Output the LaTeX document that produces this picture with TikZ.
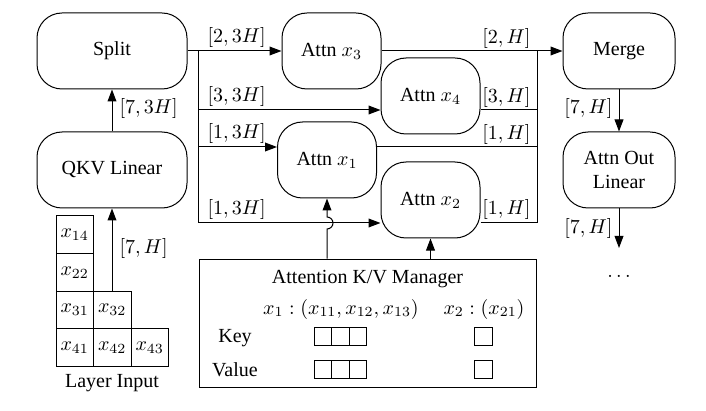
\documentclass[tikz,border=0pt]{standalone}
\usepackage[no-math]{fontspec}
\setmainfont{Liberation Serif}
\usetikzlibrary{arrows.meta}
\begin{document}
\begin{tikzpicture}[x=0.5pt,y=-0.5pt, line width=0.5pt,
  blk/.style={draw, rounded corners=12.5pt, inner sep=0pt, align=center, minimum height=38pt},
  cell/.style={draw, inner sep=0pt, minimum size=18.75pt},
  kv/.style={draw, inner sep=0pt, minimum width=8.75pt, minimum height=9pt},
  lbl/.style={inner sep=0pt},
  arr/.style={-{Triangle[length=6pt,width=4.4pt]}}
]
\useasboundingbox (0,0) rectangle (706,411);

% blocks
\node[blk, minimum width=75pt] (split) at (112,51) {Split};
\node[blk, minimum width=75pt] (qkv) at (112,170) {QKV Linear};
\node[blk, minimum width=49.5pt] (x3) at (331.5,51) {Attn $x_3$};
\node[blk, minimum width=49.5pt] (x4) at (430.5,96) {Attn $x_4$};
\node[blk, minimum width=49.5pt] (x1) at (327,160) {Attn $x_1$};
\node[blk, minimum width=49.5pt] (x2) at (430.5,200) {Attn $x_2$};
\node[blk, minimum width=56pt] (merge) at (619,51) {Merge};
\node[blk, minimum width=56pt] (aol) at (619,170) {Attn Out\\Linear};

% layer input cells
\node[cell] (c14) at (74.75,234.75) {$x_{14}$};
\node[cell] (c22) at (74.75,272.25) {$x_{22}$};
\node[cell] (c31) at (74.75,309.75) {$x_{31}$};
\node[cell] (c32) at (112.25,309.75) {$x_{32}$};
\node[cell] (c41) at (74.75,347.25) {$x_{41}$};
\node[cell] (c42) at (112.25,347.25) {$x_{42}$};
\node[cell] (c43) at (149.75,347.25) {$x_{43}$};
\node (li) at (112,383) {Layer Input};

% manager
\node[draw, minimum width=168.5pt, minimum height=64pt, inner sep=0pt] (mgr) at (367.5,323) {};
\node[anchor=base] (mt) at (367.5,284) {Attention K/V Manager};
\node[anchor=base] (m1) at (341,314) {$x_1:(x_{11},x_{12},x_{13})$};
\node[anchor=base] (m2) at (484,314) {$x_2:(x_{21})$};
\node[anchor=base] (key) at (235,342) {Key};
\node[anchor=base] (val) at (235,376) {Value};
\node[kv] (k11) at (323,336) {};
\node[kv] (k12) at (340.5,336) {};
\node[kv] (k13) at (358,336) {};
\node[kv, minimum width=9pt] (k21) at (483,336) {};
\node[kv] (v11) at (323,369) {};
\node[kv] (v12) at (340.5,369) {};
\node[kv] (v13) at (358,369) {};
\node[kv, minimum width=9pt] (v21) at (483,369) {};

% bus coordinates
\coordinate (b0) at (198,51);
\coordinate (b1) at (198,110);
\coordinate (b2) at (198,147);
\coordinate (b3) at (198,223);
\coordinate (o0) at (537,51);
\coordinate (o1) at (537,110);
\coordinate (o2) at (537,147);
\coordinate (o3) at (537,223);
\coordinate (end) at (619,248);

% left connectors
\draw[arr] (c32.north) -- (c32.north -| qkv.south) -- (qkv.south);
\node[lbl, anchor=base west] at (119,254) {$[7,H]$};
\draw[arr] (qkv.north) -- (split.south);
\node[lbl, anchor=base west] at (119,114) {$[7,3H]$};

% input bus
\draw[arr] (split.east) -- (x3.west);
\draw (b0) -- (b3);
\draw[arr] (b1) -- (b1 -| x4.west);
\draw[arr] (b2) -- (b2 -| x1.west);
\draw[arr] (b3) -- (b3 -| x2.west);
\node[lbl, anchor=base west] at (207,43) {$[2,3H]$};
\node[lbl, anchor=base west] at (207,102) {$[3,3H]$};
\node[lbl, anchor=base west] at (207,139) {$[1,3H]$};
\node[lbl, anchor=base west] at (207,214) {$[1,3H]$};

% output bus
\draw[arr] (x3.east) -- (merge.west);
\draw (o3) -- (o0);
\draw (o1 -| x4.east) -- (o1);
\draw (o2 -| x1.east) -- (o2);
\draw (o3 -| x2.east) -- (o3);
\node[lbl, anchor=base east] at (531,44) {$[2,H]$};
\node[lbl, anchor=base east] at (531,103) {$[3,H]$};
\node[lbl, anchor=base east] at (531,140) {$[1,H]$};
\node[lbl, anchor=base east] at (531,215) {$[1,H]$};

% right column
\draw[arr] (merge.south) -- (aol.north);
\node[lbl, anchor=base east] at (613,114) {$[7,H]$};
\draw[arr] (aol.south) -- (end);
\node[lbl, anchor=base east] at (613,234) {$[7,H]$};
\node (dots) at (619,276) {$\dots$};

% manager to attention
\draw[arr] (x1.south |- mgr.north) -- (327,229) arc[start angle=-90, end angle=90, radius=3pt] -- (x1.south);
\draw[arr] (x2.south |- mgr.north) -- (x2.south);
\end{tikzpicture}
\end{document}
